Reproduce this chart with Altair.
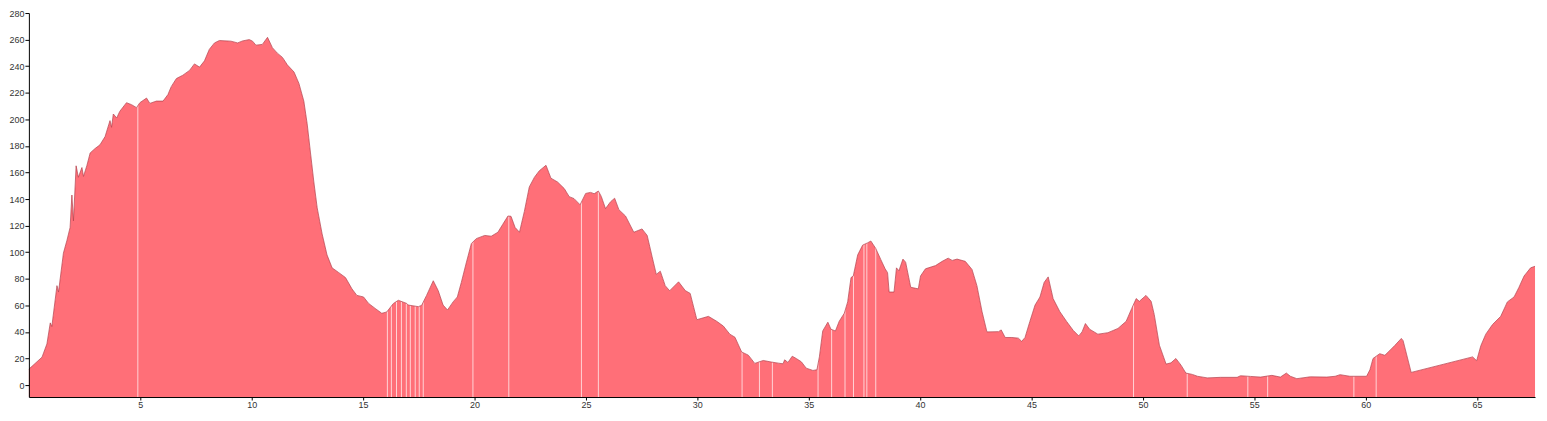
import altair as alt
import pandas as pd

# distance (km) along the route
distance = [
    0.0, 0.59, 0.81, 0.96, 1.03, 1.26, 1.33, 1.55, 1.71, 1.85, 1.93, 2.0, 2.12, 2.22, 2.38, 2.45,
    2.6, 2.75, 2.97, 3.19, 3.42, 3.64, 3.71, 3.79, 3.94, 4.08, 4.38, 4.61, 4.83, 4.98, 5.28, 5.43,
    5.72, 6.02, 6.24, 6.39, 6.62, 6.91, 7.21, 7.43, 7.66, 7.88, 8.1, 8.33, 8.55, 9.07, 9.37, 9.59,
    9.89, 10.04, 10.19, 10.48, 10.71, 10.93, 11.15, 11.38, 11.6, 11.9, 12.12, 12.34, 12.49, 12.64,
    12.79, 12.94, 13.16, 13.38, 13.61, 13.91, 14.21, 14.5, 14.72, 15.02, 15.25, 15.54, 15.84, 16.06,
    16.36, 16.58, 16.96, 17.03, 17.48, 17.63, 17.85, 18.15, 18.37, 18.59, 18.79, 19.04, 19.23, 19.41,
    19.63, 19.86, 20.08, 20.46, 20.75, 21.05, 21.27, 21.5, 21.64, 21.82, 22.02, 22.24, 22.46, 22.69,
    22.91, 23.21, 23.43, 23.73, 24.03, 24.25, 24.47, 24.74, 24.99, 25.21, 25.37, 25.56, 25.69, 25.88,
    26.11, 26.29, 26.48, 26.78, 27.15, 27.52, 27.75, 27.97, 28.16, 28.34, 28.56, 28.76, 29.16, 29.46,
    29.68, 29.98, 30.5, 30.87, 31.17, 31.46, 31.69, 31.99, 32.29, 32.58, 32.96, 33.33, 33.63, 33.85,
    33.92, 34.07, 34.26, 34.44, 34.67, 34.89, 35.19, 35.37, 35.48, 35.63, 35.86, 36.0, 36.2, 36.37,
    36.6, 36.75, 36.9, 37.0, 37.2, 37.42, 37.64, 37.79, 38.01, 38.24, 38.43, 38.54, 38.61, 38.83,
    38.94, 39.05, 39.23, 39.35, 39.58, 39.92, 40.02, 40.24, 40.69, 40.99, 41.26, 41.44, 41.66, 42.03,
    42.33, 42.55, 42.78, 43.0, 43.52, 43.64, 43.82, 44.12, 44.41, 44.56, 44.71, 44.93, 45.16, 45.38,
    45.57, 45.75, 45.97, 46.27, 46.57, 46.87, 47.12, 47.27, 47.42, 47.61, 47.98, 48.43, 48.88, 49.25,
    49.5, 49.7, 49.84, 50.14, 50.37, 50.51, 50.74, 51.04, 51.26, 51.48, 51.71, 51.93, 52.22, 52.45,
    52.89, 53.49, 54.23, 54.38, 54.83, 55.28, 55.79, 56.17, 56.44, 56.62, 56.91, 57.51, 58.25, 58.63,
    58.85, 59.29, 60.04, 60.19, 60.33, 60.63, 60.86, 61.08, 61.3, 61.6, 61.68, 62.04, 64.8, 64.98,
    65.17, 65.39, 65.69, 66.06, 66.36, 66.66, 66.88, 67.11, 67.4, 67.6,
]

# elevation (m)
elevation = [
    12, 21, 31, 46.8, 44, 74.8, 70, 99.3, 109, 118.6, 143, 123.5, 165, 156.4, 163.7, 157,
    165, 174.7, 178, 180.8, 187, 199, 194, 204, 201, 206, 212.5, 211, 208.8, 212.5, 216, 212,
    213.7, 213.7, 218.6, 224.6, 230.7, 233.2, 236.8, 241.7, 239.3, 244, 252.7, 257.5, 259.3, 258.8, 257.5, 259,
    260, 258.8, 255.8, 256.4, 261.7, 253.9, 249.8, 246.6, 241, 235.6, 227, 213.7, 196.6, 174.7,
    152.8, 133.3, 113.8, 98, 88.2, 84.6, 80.9, 72.4, 67.5, 66.3, 61.4, 57.7, 54, 55,
    61.4, 63.8, 61.4, 60.2, 59, 60, 67.5, 78.5, 71.1, 60.2, 56.5, 62.6, 66.3, 77.3,
    91.9, 106.5, 110.2, 112.6, 112, 115, 121, 127.2, 127, 118.7, 115, 130.8, 149.1, 156.4,
    161.3, 165.4, 155.7, 152.8, 147.9, 141.8, 140.3, 135.7, 144.2, 145, 144, 146, 142, 132.8,
    138, 140.6, 132, 127.2, 115, 117.5, 112.6, 96.7, 83.3, 85.7, 74.8, 71, 77.7, 71.1,
    69, 49.2, 51.7, 48, 44.4, 38.3, 36, 24.9, 22.5, 16.3, 18.5, 17.3, 16.5, 16,
    19, 17, 21.7, 20, 17.5, 12.7, 11, 11.5, 21.2, 40.7, 47.3, 42, 40.7, 48,
    54.1, 62.6, 80.9, 82, 98, 105.3, 107, 108.4, 102.8, 94.3, 87.5, 84.6, 70, 70,
    88.2, 86, 94.8, 92.5, 73.6, 72.4, 82.1, 87.5, 89.9, 93.1, 95.5, 93.8, 94.8, 93.1,
    87, 74.8, 55.3, 40, 40.2, 41.5, 35.8, 35.8, 35.3, 32.9, 35.8, 48, 60.2, 66.3,
    77.3, 81.4, 65.1, 55.3, 48, 41.2, 37, 40, 46.3, 42, 38.3, 39.4, 42.6, 48,
    57.7, 65.1, 63, 67.5, 63, 53, 30, 15.8, 16.7, 20, 15, 9, 8, 6.6,
    5.4, 5.8, 5.8, 7, 6.5, 6, 7.3, 6, 9, 6.6, 4.8, 6.2, 6, 6.6,
    7.8, 6.6, 6.6, 11.5, 20, 23.6, 22.4, 26, 29.7, 35.1, 33.4, 9.5, 21.2, 18.3,
    29.7, 38.3, 45.5, 51.7, 62.6, 66.3, 73.6, 82.1, 88.2, 89.4,
]

# segment breaks (thin light lines inside the profile)
breaks = [
    4.89, 16.09, 16.27, 16.5, 16.72, 16.94, 17.12, 17.34, 17.52, 17.7, 19.93, 21.54, 24.8, 25.56,
    32.01, 32.79, 33.37, 35.42, 36.03, 36.63, 37.01, 37.48, 37.61, 38.01, 49.58, 51.99, 54.71,
    55.6, 59.47, 60.47,
]

x_ticks = [5, 10, 15, 20, 25, 30, 35, 40, 45, 50, 55, 60, 65]
y_ticks = [0, 20, 40, 60, 80, 100, 120, 140, 160, 180, 200, 220, 240, 260, 280]

X_MIN, X_MAX = 0, 67.6
Y_MIN, Y_MAX = -9, 280

profile = pd.DataFrame({"d": distance, "e": elevation})
gaps = pd.DataFrame({"d": breaks})

x_scale = alt.Scale(domain=[X_MIN, X_MAX], nice=False, zero=False)
y_scale = alt.Scale(domain=[Y_MIN, Y_MAX], nice=False, zero=False)

x_axis = alt.Axis(values=x_ticks, title=None, grid=False, tickSize=3, labelPadding=1,
                  domainColor="#000", tickColor="#000", labelColor="#333",
                  labelFont="Liberation Sans", labelFontSize=9, labelOverlap=False, zindex=1)
y_axis = alt.Axis(values=y_ticks, title=None, grid=False, tickSize=4, labelPadding=1,
                  domainColor="#000", tickColor="#000", labelColor="#333",
                  labelFont="Liberation Sans", labelFontSize=9, labelOverlap=False, zindex=1)

X = alt.X("d:Q", scale=x_scale, axis=x_axis)
Y = alt.Y("e:Q", scale=y_scale, axis=y_axis)

base = alt.Chart(profile)

fill = base.mark_area(color="#FF6F78", opacity=1).encode(
    x=X, y=Y, y2=alt.Y2Datum(Y_MIN),
)

rules = alt.Chart(gaps).mark_rule(color="#ffffff", strokeWidth=1, opacity=0.7).encode(
    x=X,
    y=alt.YDatum(Y_MIN, scale=y_scale, axis=y_axis),
    y2=alt.Y2Datum(Y_MAX),
)

mask = base.mark_area(color="#ffffff", opacity=1).encode(
    x=X, y=Y, y2=alt.Y2Datum(Y_MAX),
)

edge = base.mark_line(color="#B8404C", strokeWidth=0.9, opacity=0.85).encode(
    x=X, y=Y,
)

chart = alt.layer(fill, rules, mask, edge).properties(
    width=1514,
    height=386,
    autosize=alt.AutoSizeParams(type="none"),
    padding={"left": 21, "top": 4, "right": 4, "bottom": 13},
).configure_view(stroke=None)

chart.save("out.html", embed_options={"renderer": "svg", "actions": False})
